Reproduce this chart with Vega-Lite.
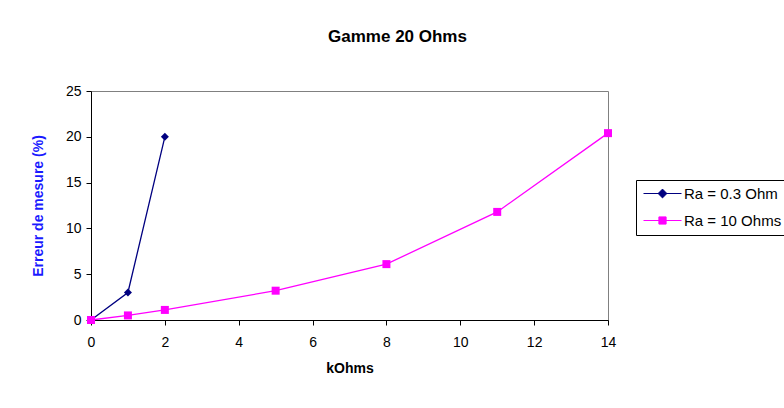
{
  "$schema": "https://vega.github.io/schema/vega-lite/v6.json",
  "width": 517,
  "height": 229,
  "autosize": {"type": "none"},
  "padding": {"left": 91, "top": 91, "right": 176, "bottom": 88},
  "background": "white",
  "config": {
    "font": "Liberation Sans",
    "view": {"stroke": "#808080", "strokeWidth": 1},
    "axis": {"grid": false, "domainColor": "black", "tickColor": "black", "labelColor": "black", "labelFont": "Liberation Sans", "labelFontSize": 14, "titleFont": "Liberation Sans", "titleFontSize": 14, "titleFontWeight": "bold", "labelFlush": false}
  },
  "title": {"text": "Gamme 20 Ohms", "font": "Liberation Sans", "fontSize": 17, "fontWeight": "bold", "color": "black", "anchor": "middle", "dx": 48, "offset": 25, "baseline": "alphabetic"},
  "data": {
    "values": [
      {"series": "Ra = 0.3 Ohm", "x": 0, "y": 0},
      {"series": "Ra = 0.3 Ohm", "x": 1, "y": 3},
      {"series": "Ra = 0.3 Ohm", "x": 2, "y": 20},
      {"series": "Ra = 10 Ohms", "x": 0, "y": 0},
      {"series": "Ra = 10 Ohms", "x": 1, "y": 0.5},
      {"series": "Ra = 10 Ohms", "x": 2, "y": 1.1},
      {"series": "Ra = 10 Ohms", "x": 5, "y": 3.2},
      {"series": "Ra = 10 Ohms", "x": 8, "y": 6.1},
      {"series": "Ra = 10 Ohms", "x": 11, "y": 11.8},
      {"series": "Ra = 10 Ohms", "x": 14, "y": 20.4}
    ]
  },
  "encoding": {
    "x": {"field": "x", "type": "quantitative", "scale": {"domain": [0, 14], "nice": false, "zero": true}, "axis": {"title": "kOhms", "values": [0, 2, 4, 6, 8, 10, 12, 14], "tickSize": 5, "labelPadding": 10, "titlePadding": 12, "titleColor": "black"}},
    "y": {"field": "y", "type": "quantitative", "scale": {"domain": [0, 25], "nice": false}, "axis": {"title": "Erreur de mesure (%)", "values": [0, 5, 10, 15, 20, 25], "tickSize": 5, "labelPadding": 5, "titlePadding": 20, "titleColor": "#1a1aff"}},
    "color": {"field": "series", "type": "nominal", "scale": {"domain": ["Ra = 0.3 Ohm", "Ra = 10 Ohms"], "range": ["#000080", "#FF00FF"]},
      "legend": {
        "title": null, "orient": "none", "legendX": 545, "legendY": 89,
        "strokeColor": "black", "fillColor": "white", "padding": 6,
        "labelFont": "Liberation Sans", "labelFontSize": 15, "labelColor": "black",
        "symbolSize": 64, "symbolOffset": 13, "labelOffset": 14, "rowPadding": 11,
        "encode": {
          "symbols": {"update": {
            "shape": {"signal": "datum.value === 'Ra = 0.3 Ohm' ? 'M-4.75,0H4.75M0,-1.1L1.1,0L0,1.1L-1.1,0Z' : 'M-4.75,0H4.75M-0.9,-0.9H0.9V0.9H-0.9Z'"},
            "fill": {"scale": "color", "field": "value"},
            "stroke": {"scale": "color", "field": "value"},
            "strokeWidth": {"value": 1},
            "opacity": {"value": 1},
            "fillOpacity": {"value": 1}
          }}
        }
      }
    }
  },
  "layer": [
    {"mark": {"type": "line", "strokeWidth": 1.3}},
    {"transform": [{"filter": "datum.series === 'Ra = 0.3 Ohm'"}],
     "mark": {"type": "point", "filled": true, "opacity": 1, "size": 64, "shape": "diamond"}},
    {"transform": [{"filter": "datum.series === 'Ra = 10 Ohms'"}],
     "mark": {"type": "point", "filled": true, "opacity": 1, "size": 64, "shape": "square"}}
  ]
}
